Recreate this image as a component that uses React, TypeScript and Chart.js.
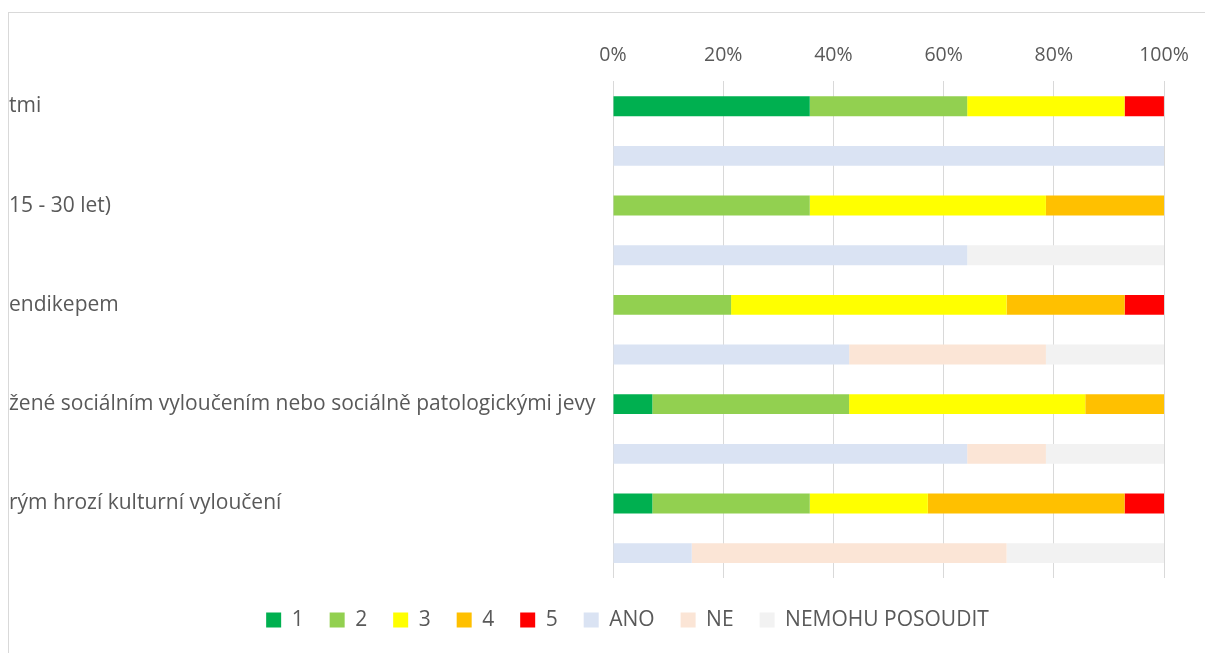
import React, { useEffect, useRef } from "react";
import { Chart, registerables } from "chart.js";

Chart.register(...registerables);

const categories = [
  "tmi",
  "",
  "15 - 30 let)",
  "",
  "endikepem",
  "",
  "žené sociálním vyloučením nebo sociálně patologickými jevy",
  "",
  "rým hrozí kulturní vyloučení",
  "",
];

const xTickValues = [0, 20, 40, 60, 80, 100];

const series1 = [35.71, null, null, null, null, null, 7.14, null, 7.14, null];
const series2 = [28.57, null, 35.71, null, 21.43, null, 35.71, null, 28.57, null];
const series3 = [28.57, null, 42.86, null, 50.0, null, 42.86, null, 21.43, null];
const series4 = [null, null, 21.43, null, 21.43, null, 14.29, null, 35.71, null];
const series5 = [7.14, null, null, null, 7.14, null, null, null, 7.15, null];
const seriesAno = [null, 100, null, 64.29, null, 42.86, null, 64.28, null, 14.29];
const seriesNe = [null, null, null, null, null, 35.71, null, 14.29, null, 57.14];
const seriesNemohu = [null, null, null, 35.71, null, 21.43, null, 21.43, null, 28.57];

const seriesNames = ["1", "2", "3", "4", "5", "ANO", "NE", "NEMOHU POSOUDIT"];
const seriesColors = ["#00B050", "#92D050", "#FFFF00", "#FFC000", "#FF0000", "#DAE3F3", "#FBE5D6", "#F2F2F2"];

const FONT = "'Open Sans', 'Noto Sans', sans-serif";
const TEXT = "#595959";

export default function App() {
  const canvasRef = useRef<HTMLCanvasElement | null>(null);

  useEffect(() => {
    if (!canvasRef.current) return;
    const allSeries = [series1, series2, series3, series4, series5, seriesAno, seriesNe, seriesNemohu];
    const chart = new Chart(canvasRef.current, {
      type: "bar",
      data: {
        labels: categories,
        datasets: allSeries.map((d, i) => ({
          label: seriesNames[i],
          data: d as any,
          backgroundColor: seriesColors[i],
          borderWidth: 0,
          categoryPercentage: 1,
          barPercentage: 0.4,
        })),
      },
      options: {
        indexAxis: "y",
        animation: false,
        responsive: true,
        maintainAspectRatio: false,
        layout: { padding: { top: 17, left: 0, right: 0, bottom: 12.5 } },
        plugins: {
          tooltip: { enabled: false },
          legend: {
            position: "bottom",
            title: {
              display: true,
              text: "",
              font: { size: 1, lineHeight: 1 },
              padding: { top: 4.5, bottom: 0 },
            },
            labels: {
              boxWidth: 15,
              boxHeight: 15,
              padding: 26,
              color: TEXT,
              font: { family: FONT, size: 21 },
            },
          },
        },
        scales: {
          x: {
            type: "linear",
            position: "top",
            stacked: true,
            min: 0,
            max: 100,
            afterBuildTicks: (s: any) => {
              s.ticks = xTickValues.map((v) => ({ value: v }));
            },
            ticks: {
              padding: 14,
              color: TEXT,
              font: { family: FONT, size: 19.5 },
              callback: (v: any) => v + "%",
            },
            grid: { color: "#D9D9D9", lineWidth: 1, drawTicks: false },
            border: { display: false },
          },
          y: {
            type: "category",
            stacked: true,
            position: "left",
            ticks: {
              crossAlign: "far",
              color: TEXT,
              font: { family: FONT, size: 21 },
              autoSkip: false,
            },
            grid: { display: false },
            border: { display: false },
            afterFit: (s: any) => {
              s.width = 604;
            },
          },
          yRight: {
            type: "category",
            position: "right",
            ticks: { display: false },
            grid: { display: false },
            border: { display: false },
            afterFit: (s: any) => {
              s.width = 82;
            },
          },
        },
      },
    });
    return () => chart.destroy();
  }, []);

  return (
    <div style={{ position: "fixed", left: 0, top: 0, width: "100vw", height: "100vh", overflow: "hidden", background: "#fff" }}>
      <div
        style={{
          position: "absolute",
          left: 8,
          top: 12,
          width: 1400,
          height: 800,
          borderTop: "1px solid #D9D9D9",
          borderLeft: "1px solid #D9D9D9",
        }}
      />
      <div style={{ position: "absolute", left: 9, top: 13, width: 1237, height: 640 }}>
        <canvas ref={canvasRef} />
      </div>
    </div>
  );
}
